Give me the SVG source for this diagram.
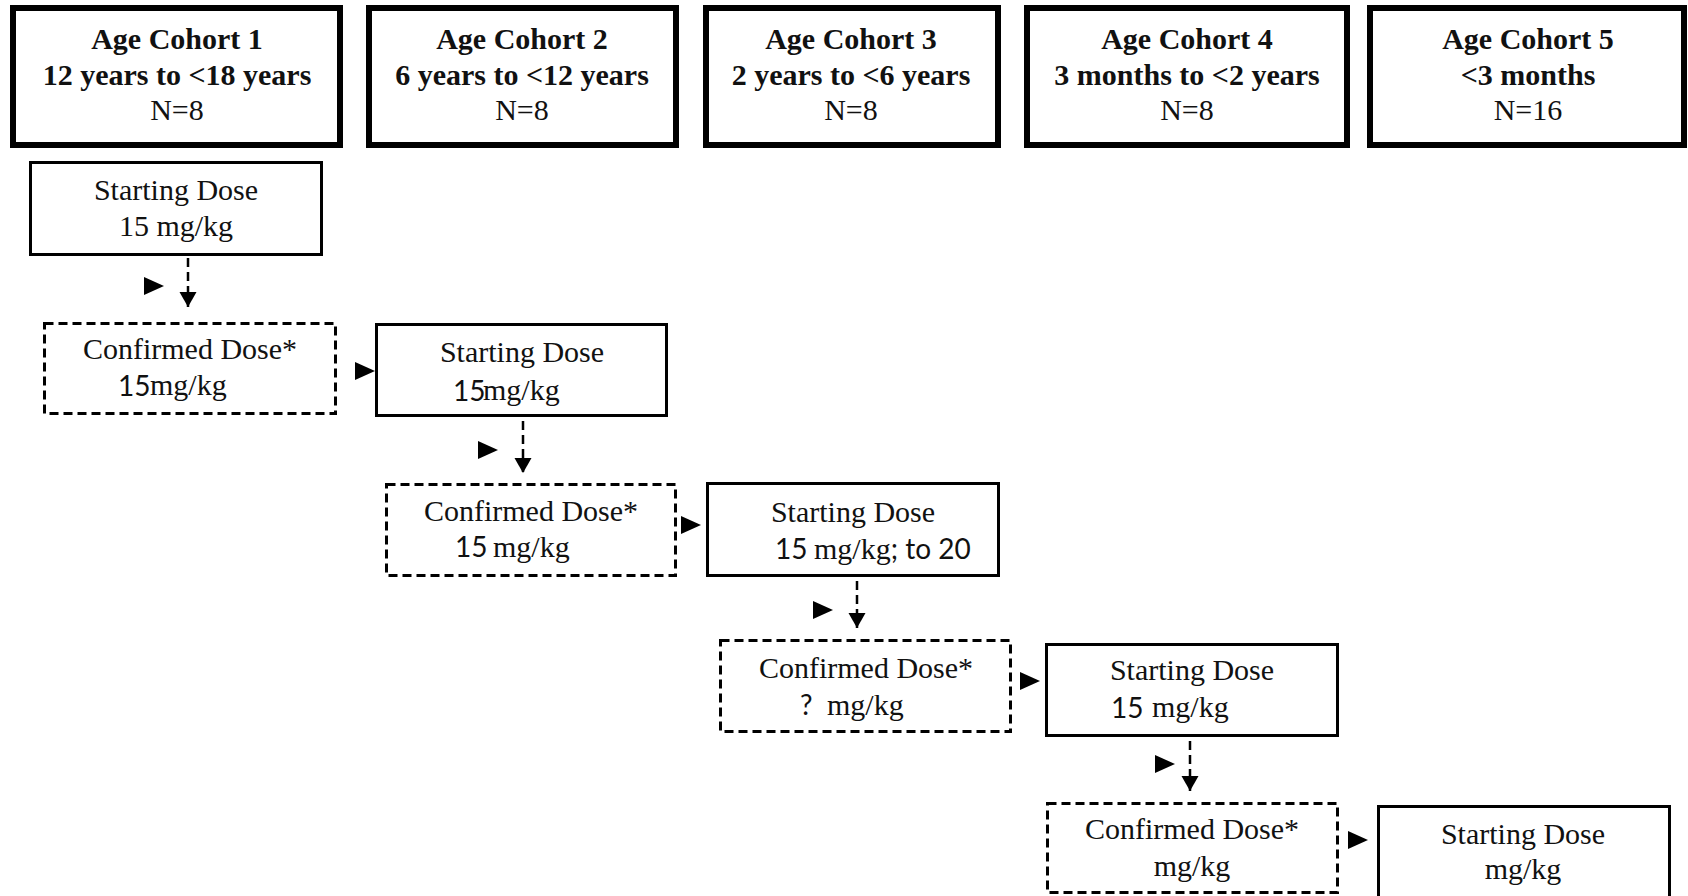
<svg xmlns="http://www.w3.org/2000/svg" width="1688" height="896" viewBox="0 0 1688 896">
<style>
.bg{fill:#fff}
.cohort{fill:#fff;stroke:#000;stroke-width:6}
.solid{fill:#fff;stroke:#000;stroke-width:3}
.dash{fill:#fff;stroke:#000;stroke-width:3;stroke-dasharray:9 5}
.conn{fill:none;stroke:#000;stroke-width:2.5;stroke-dasharray:9 5}
.tri{fill:#000}
text{font-family:"Liberation Serif","Times New Roman",serif;font-size:30px;fill:#111}
.b{font-weight:bold;text-anchor:middle}
.c{text-anchor:middle}
.sans{font-family:Lato,"Liberation Sans",sans-serif;font-size:28px}
</style>
<defs>
<marker id="ah" markerUnits="userSpaceOnUse" markerWidth="16" markerHeight="18" refX="15" refY="8.5" orient="auto">
<path d="M0,0 L15,8.5 L0,17 z" fill="#000"/>
</marker>
<polygon id="tri" points="0,0 20,9 0,18"/>
</defs>
<rect class="bg" x="0" y="0" width="1688" height="896"/>

<g id="cohort1"><rect class="cohort" x="13" y="8" width="327" height="137"/>
<text class="b" x="177" y="49">Age Cohort 1</text><text class="b" x="177" y="85">12 years to &lt;18 years</text><text class="c" x="177" y="120">N=8</text></g>
<g id="cohort2"><rect class="cohort" x="369" y="8" width="307" height="137"/>
<text class="b" x="522" y="49">Age Cohort 2</text><text class="b" x="522" y="85">6 years to &lt;12 years</text><text class="c" x="522" y="120">N=8</text></g>
<g id="cohort3"><rect class="cohort" x="706" y="8" width="292" height="137"/>
<text class="b" x="851" y="49">Age Cohort 3</text><text class="b" x="851" y="85">2 years to &lt;6 years</text><text class="c" x="851" y="120">N=8</text></g>
<g id="cohort4"><rect class="cohort" x="1027" y="8" width="320" height="137"/>
<text class="b" x="1187" y="49">Age Cohort 4</text><text class="b" x="1187" y="85">3 months to &lt;2 years</text><text class="c" x="1187" y="120">N=8</text></g>
<g id="cohort5"><rect class="cohort" x="1370" y="8" width="314" height="137"/>
<text class="b" x="1528" y="49">Age Cohort 5</text><text class="b" x="1528" y="85">&lt;3 months</text><text class="c" x="1528" y="120">N=16</text></g>

<g id="start1"><rect class="solid" x="30.5" y="162.5" width="291" height="92"/>
<text class="c" x="176" y="200">Starting Dose</text><text class="c" x="176" y="236">15 mg/kg</text></g>
<g id="confirm1"><rect class="dash" x="44.5" y="323.5" width="291" height="90"/>
<text class="c" x="190" y="359" textLength="214">Confirmed Dose*</text>
<text x="118" y="396"><tspan class="sans">15</tspan><tspan x="150" y="395">mg/kg</tspan></text></g>

<g id="start2"><rect class="solid" x="376.5" y="324.5" width="290" height="91"/>
<text class="c" x="522" y="362">Starting Dose</text>
<text x="453" y="401"><tspan class="sans">15</tspan><tspan x="483" y="400">mg/kg</tspan></text></g>
<g id="confirm2"><rect class="dash" x="386.5" y="484.5" width="289" height="91"/>
<text class="c" x="531" y="521" textLength="214">Confirmed Dose*</text>
<text x="455" y="557"><tspan class="sans">15</tspan><tspan x="493">mg/kg</tspan></text></g>

<g id="start3"><rect class="solid" x="707.5" y="483.5" width="291" height="92"/>
<text class="c" x="853" y="522">Starting Dose</text>
<text x="775" y="559"><tspan class="sans">15</tspan><tspan x="814">mg/kg</tspan><tspan class="sans">; to 20</tspan></text></g>
<g id="confirm3"><rect class="dash" x="720.5" y="640.5" width="290" height="91"/>
<text class="c" x="866" y="678" textLength="214">Confirmed Dose*</text>
<text x="800" y="715"><tspan class="sans">?</tspan><tspan x="827">mg/kg</tspan></text></g>

<g id="start4"><rect class="solid" x="1046.5" y="644.5" width="291" height="91"/>
<text class="c" x="1192" y="680">Starting Dose</text>
<text x="1111" y="718"><tspan class="sans">15</tspan><tspan x="1152" y="717">mg/kg</tspan></text></g>
<g id="confirm4"><rect class="dash" x="1047.5" y="803.5" width="290" height="89"/>
<text class="c" x="1192" y="839" textLength="214">Confirmed Dose*</text>
<text class="c" x="1192" y="876">mg/kg</text></g>

<g id="start5"><rect class="solid" x="1378.5" y="806.5" width="291" height="94"/>
<text class="c" x="1523" y="844">Starting Dose</text>
<text class="c" x="1523" y="879">mg/kg</text></g>

<g id="connectors">
<line class="conn" x1="188" y1="258" x2="188" y2="307" marker-end="url(#ah)"/>
<line class="conn" x1="523" y1="421" x2="523" y2="473" marker-end="url(#ah)"/>
<line class="conn" x1="857" y1="581" x2="857" y2="628" marker-end="url(#ah)"/>
<line class="conn" x1="1190" y1="741" x2="1190" y2="791" marker-end="url(#ah)"/>
<use href="#tri" class="tri" x="144" y="277"/>
<use href="#tri" class="tri" x="478" y="441"/>
<use href="#tri" class="tri" x="813" y="601"/>
<use href="#tri" class="tri" x="1155" y="755"/>
<use href="#tri" class="tri" x="355" y="362"/>
<use href="#tri" class="tri" x="681" y="516"/>
<use href="#tri" class="tri" x="1020" y="672"/>
<use href="#tri" class="tri" x="1348" y="831"/>
</g>
</svg>
